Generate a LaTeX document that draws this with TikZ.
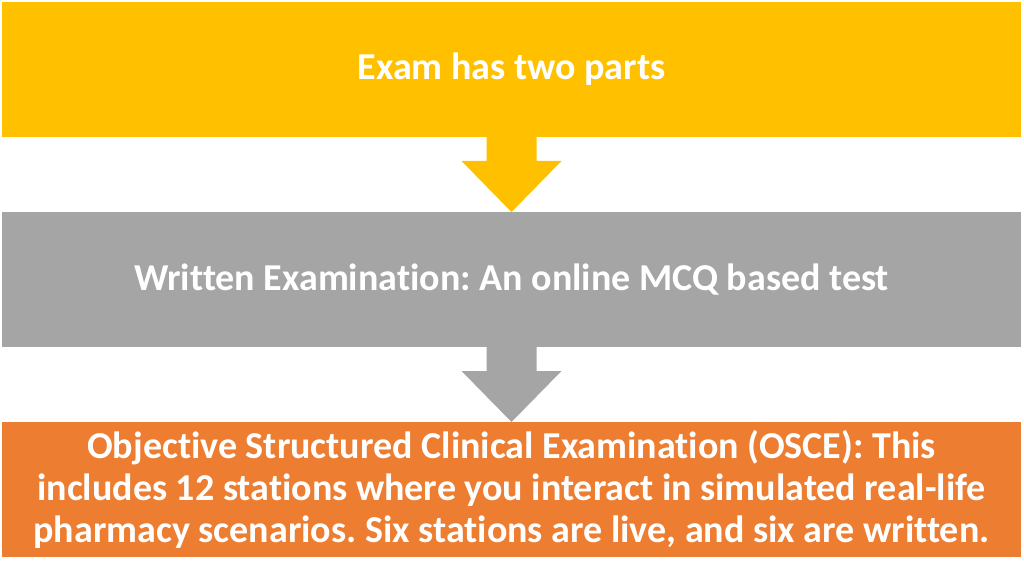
\documentclass[tikz,border=0pt]{standalone}
\usepackage{fontspec}
\setmainfont[Ligatures=CommonOff]{Carlito}
\definecolor{cYellow}{HTML}{FFC000}
\definecolor{cGray}{HTML}{A5A5A5}
\definecolor{cOrange}{HTML}{ED7D31}
\begin{document}
\frenchspacing
\begin{tikzpicture}[x=1pt,y=-1pt,
  box/.style={inner sep=0pt, outer sep=0pt, minimum width=1019pt, minimum height=135pt,
    text=white, align=center, font=\bfseries\fontsize{38}{42}\selectfont}]
\useasboundingbox (0,0) rectangle (1024,577);
\node[box, fill=cYellow] (top) at (511.5,69.5) {Exam has two parts};
\node[box, fill=cGray] (mid) at (511.5,279.5) {Written Examination: An online MCQ based test};
\node[box, fill=cOrange] (bot) at (511.5,489.5) {Objective Structured Clinical Examination (OSCE): This\\includes 12 stations where you interact in simulated real-life\\pharmacy scenarios. Six stations are live, and six are written.};
\fill[cYellow] ([xshift=-25pt]top.south) -- ([xshift=25pt]top.south) -- ++(0,24) -- ++(25,0) -- (mid.north) -- ([xshift=-50pt,yshift=51pt]mid.north) -- ++(25,0) -- cycle;
\fill[cGray] ([xshift=-25pt]mid.south) -- ([xshift=25pt]mid.south) -- ++(0,24) -- ++(25,0) -- (bot.north) -- ([xshift=-50pt,yshift=51pt]bot.north) -- ++(25,0) -- cycle;
\end{tikzpicture}
\end{document}
